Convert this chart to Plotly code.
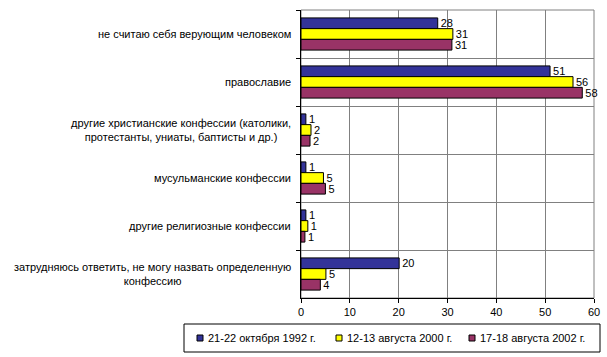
import plotly.graph_objects as go

categories = [
    "не считаю себя верующим человеком",
    "православие",
    "другие христианские конфессии (католики,<br>протестанты, униаты, баптисты и др.)",
    "мусульманские конфессии",
    "другие религиозные конфессии",
    "затрудняюсь ответить, не могу назвать определенную<br>конфессию",
]
series_names = ["21-22 октября 1992 г.", "12-13 августа 2000 г.", "17-18 августа 2002 г."]
values_1992 = [28.0, 51.0, 1.0, 1.0, 1.0, 20.1]
values_2000 = [31.1, 55.7, 2.05, 4.6, 1.4, 5.1]
values_2002 = [30.9, 57.6, 1.85, 5.0, 0.8, 3.96]
colors = ["#333399", "#FFFF00", "#993366"]

W, H = 607, 357
ML, MR, MT, MB = 301, 13, 10, 59
PW, PH = W - ML - MR, H - MT - MB


def px_x(px):
    return (px - ML) / PW


def px_y(py):
    return (H - MB - py) / PH


fig = go.Figure()
for name, vals, col in zip(series_names, [values_1992, values_2000, values_2002], colors):
    fig.add_trace(go.Bar(
        y=categories, x=vals, name=name, orientation="h",
        marker=dict(color=col, line=dict(color="black", width=1)),
        text=vals, texttemplate="%{x:.0f}", textposition="outside",
        constraintext="none",
        textfont=dict(color="black", size=11, family="Arial"),
        cliponaxis=False, showlegend=False,
    ))

annotations = [
    dict(xref="paper", yref="y", x=0, y=c, xshift=-8, xanchor="right", yanchor="middle",
         align="center", text=c, showarrow=False, font=dict(size=11, color="black"))
    for c in categories
]

# manual legend (box, swatches, labels)
shapes = [dict(type="rect", xref="paper", yref="paper", x0=0, x1=1, y0=0, y1=1,
               line=dict(color="#808080", width=1), layer="below"),
          dict(type="rect", xref="paper", yref="paper",
               x0=px_x(184), x1=px_x(600), y0=px_y(352), y1=px_y(324),
               line=dict(color="black", width=1), fillcolor="white")]
leg_y = 338
for sx, name, col in zip([197, 336, 469], series_names, colors):
    shapes.append(dict(type="rect", xref="paper", yref="paper",
                       x0=px_x(sx), x1=px_x(sx + 6), y0=px_y(leg_y + 3), y1=px_y(leg_y - 3),
                       line=dict(color="black", width=1), fillcolor=col))
    annotations.append(dict(xref="paper", yref="paper", x=px_x(sx + 9), y=px_y(leg_y),
                            xanchor="left", yanchor="middle", text=name, showarrow=False,
                            font=dict(size=11, color="black")))

fig.update_layout(
    width=W, height=H,
    margin=dict(l=ML, r=MR, t=MT, b=MB, autoexpand=False),
    paper_bgcolor="white", plot_bgcolor="white",
    barmode="group", bargap=0.33, bargroupgap=0,
    font=dict(family="Arial", size=11, color="black"),
    showlegend=False,
    annotations=annotations,
    shapes=shapes,
)
fig.update_xaxes(range=[0, 60], dtick=10, showgrid=True, gridcolor="#808080", gridwidth=1,
                 showline=True, linecolor="black", linewidth=1, ticks="outside",
                 ticklen=4, tickcolor="black", zeroline=False,
                 tickfont=dict(size=11))
fig.update_yaxes(autorange="reversed", showgrid=True, gridcolor="#808080", gridwidth=1,
                 tickson="boundaries", ticks="outside", ticklen=4, tickcolor="black",
                 showline=True, linecolor="black", linewidth=1, showticklabels=False)

fig.write_html("out.html", config={"displayModeBar": False},
               post_script="document.body.style.margin='0';")
